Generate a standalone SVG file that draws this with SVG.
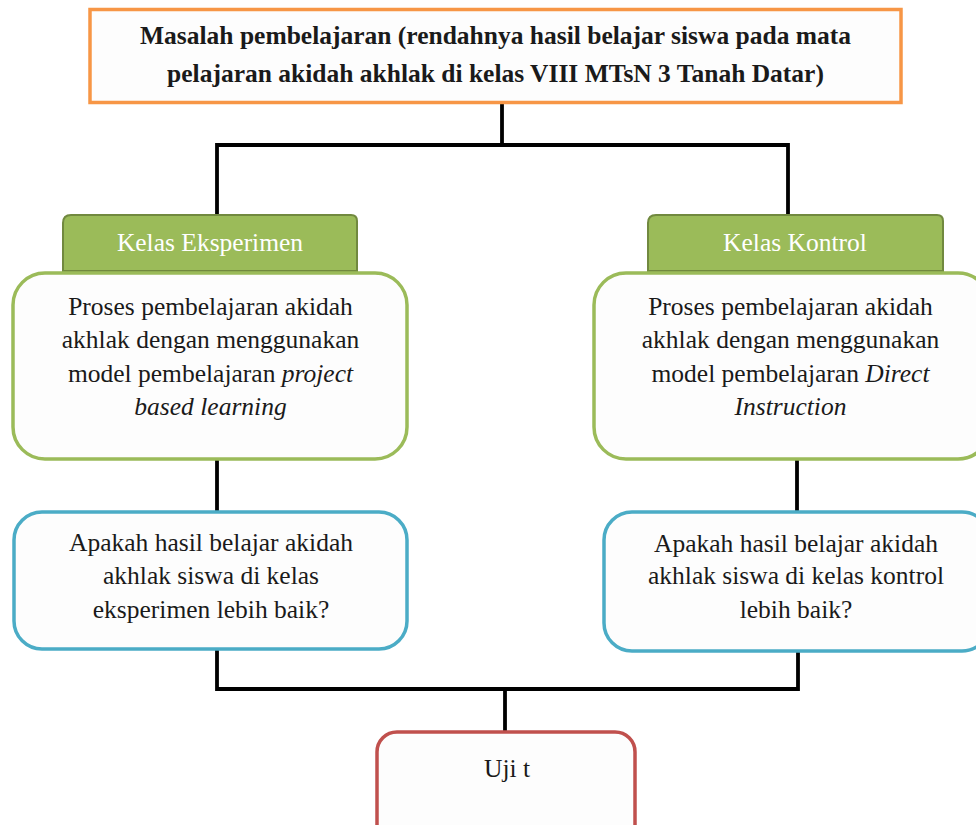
<svg xmlns="http://www.w3.org/2000/svg" width="976" height="825" viewBox="0 0 976 825">
<style>
  text { font-family: "Liberation Serif", "Times New Roman", serif; font-size: 25.5px; fill: #1a1a1a; text-anchor: middle; }
  .bold { font-weight: bold; }
  .tab text, text.tabt { fill: #ffffff; }
  .i { font-style: italic; }
  .conn { fill: none; stroke: #000000; stroke-width: 3.8; stroke-linejoin: miter; }
  .orange { fill: #fdfdfd; stroke: #F79646; stroke-width: 3.5; }
  .green { fill: #fdfdfd; stroke: #9BBB59; stroke-width: 3.5; }
  .blue { fill: #fdfdfd; stroke: #4BACC6; stroke-width: 3.5; }
  .red { fill: #fdfdfd; stroke: #C0504D; stroke-width: 3.5; }
  .tabshape { fill: #9BBB59; stroke: #71893F; stroke-width: 2; }
</style>
<rect width="976" height="825" fill="#ffffff"/>

<g id="connectors">
  <path class="conn" d="M502,103 V145 H217 V215"/>
  <path class="conn" d="M502,145 H788 V215"/>
  <path class="conn" d="M217,459 V512"/>
  <path class="conn" d="M797,459 V512"/>
  <path class="conn" d="M217,650 V689 H798 V652"/>
  <path class="conn" d="M505,689 V732"/>
</g>

<g id="masalah">
  <rect class="orange" x="90" y="9.5" width="811" height="93"/>
  <text class="bold" x="495.5" y="44">Masalah pembelajaran (rendahnya hasil belajar siswa pada mata</text>
  <text class="bold" x="495.5" y="82">pelajaran akidah akhlak di kelas VIII MTsN 3 Tanah Datar)</text>
</g>

<g id="tab-eksperimen">
  <path class="tabshape" d="M63,271 V223 Q63,215 71,215 H351 Q357,215 357,221 V271 Z"/>
  <text class="tabt" x="210" y="251">Kelas Eksperimen</text>
</g>

<g id="tab-kontrol">
  <path class="tabshape" d="M648,271 V223 Q648,215 656,215 H937 Q943,215 943,221 V271 Z"/>
  <text class="tabt" x="795" y="251">Kelas Kontrol</text>
</g>

<g id="proses-eksperimen">
  <rect class="green" x="13" y="273" width="394" height="186" rx="32" ry="32"/>
  <text x="210.5" y="315">Proses pembelajaran akidah</text>
  <text x="210.5" y="348">akhlak dengan menggunakan</text>
  <text x="210.5" y="382">model pembelajaran <tspan class="i">project</tspan></text>
  <text x="210.5" y="415" class="i">based learning</text>
</g>

<g id="proses-kontrol">
  <rect class="green" x="594" y="273" width="396" height="186" rx="32" ry="32"/>
  <text x="790.5" y="315">Proses pembelajaran akidah</text>
  <text x="790.5" y="348">akhlak dengan menggunakan</text>
  <text x="790.5" y="382">model pembelajaran <tspan class="i">Direct</tspan></text>
  <text x="790.5" y="415" class="i">Instruction</text>
</g>

<g id="hasil-eksperimen">
  <rect class="blue" x="14" y="512" width="393" height="137" rx="28" ry="28"/>
  <text x="211" y="551">Apakah hasil belajar akidah</text>
  <text x="211" y="584">akhlak siswa di kelas</text>
  <text x="211" y="618">eksperimen lebih baik?</text>
</g>

<g id="hasil-kontrol">
  <rect class="blue" x="604" y="512" width="386" height="139" rx="28" ry="28"/>
  <text x="796" y="552">Apakah hasil belajar akidah</text>
  <text x="796" y="584">akhlak siswa di kelas kontrol</text>
  <text x="796" y="618">lebih baik?</text>
</g>

<g id="uji-t">
  <rect class="red" x="377" y="732" width="258" height="120" rx="20" ry="20"/>
  <text x="507" y="777">Uji t</text>
</g>
</svg>
